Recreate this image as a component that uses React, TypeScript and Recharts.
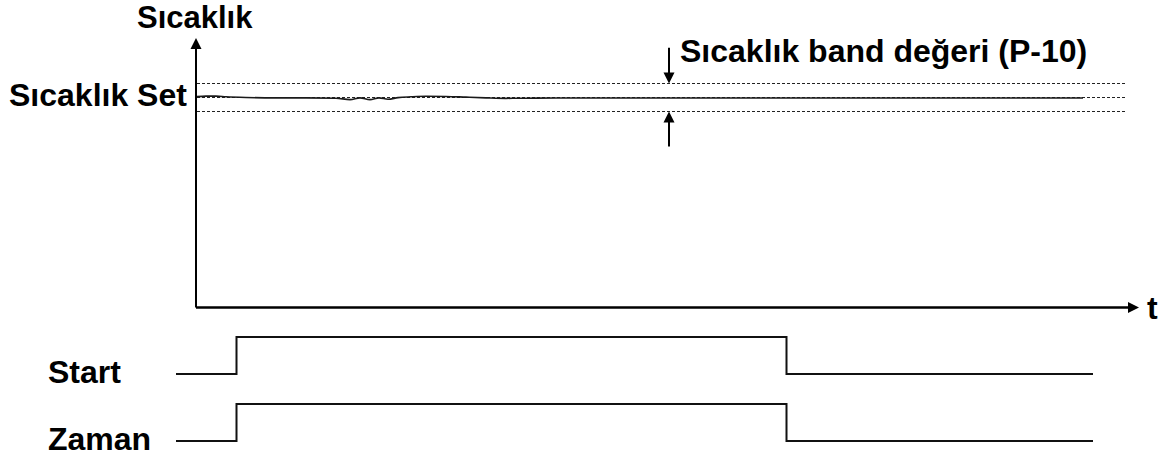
import React from "react";
import {
  ComposedChart,
  Line,
  Scatter,
  XAxis,
  YAxis,
  ReferenceLine,
} from "recharts";

// time runs from t = 0 at the vertical axis
const tempSeries = [
  { t: 0.1, v: 30.12 },
  { t: 1, v: 30.2 },
  { t: 2, v: 30.2 },
  { t: 3, v: 30.1 },
  { t: 5, v: 30.0 },
  { t: 8, v: 29.95 },
  { t: 11, v: 29.95 },
  { t: 14, v: 29.9 },
  { t: 15.4, v: 29.7 },
  { t: 16.4, v: 29.95 },
  { t: 17.4, v: 29.7 },
  { t: 18.3, v: 29.95 },
  { t: 19.2, v: 29.75 },
  { t: 20.2, v: 29.98 },
  { t: 21.5, v: 30.1 },
  { t: 23, v: 30.18 },
  { t: 25, v: 30.15 },
  { t: 27, v: 30.05 },
  { t: 29, v: 29.95 },
  { t: 31, v: 29.88 },
  { t: 33, v: 29.9 },
  { t: 36, v: 29.93 },
  { t: 45, v: 29.93 },
  { t: 60, v: 29.92 },
  { t: 75, v: 29.92 },
  { t: 88.7, v: 29.92 },
];

const setValue = 30;
const bandValue = 2; // P-10
const bandEnd = 92.9;

const startSignal = [
  { t: -2, v: 0 },
  { t: 4.05, v: 1 },
  { t: 59.05, v: 0 },
  { t: 89.7, v: 0 },
];
const zamanSignal = [
  { t: -2, v: 0 },
  { t: 4.05, v: 1 },
  { t: 59.05, v: 0 },
  { t: 89.7, v: 0 },
];

const axisTop = 38.5;
const axisEnd = 94.3;
const bandArrowT = 47.3;

const arrowHeads = [
  { t: 0, v: axisTop, dir: "up" },
  { t: axisEnd, v: 0, dir: "right" },
  { t: bandArrowT, v: setValue + bandValue, dir: "down" },
  { t: bandArrowT, v: setValue - bandValue, dir: "up" },
];

const W = 1163;
const H = 458;
const M = { top: 30, right: 0, bottom: 8, left: 166 };
const plotTop = M.top;
const plotBottom = H - M.bottom;

// vertical placement of each band
const tempZeroPx = 307.5;
const tempPxPerUnit = 7;
const sigPx = 37;
const startZeroPx = 374;
const zamanZeroPx = 441;

const domainFor = (zeroPx: number, pxPerUnit: number): [number, number] => [
  -(plotBottom - zeroPx) / pxPerUnit,
  (zeroPx - plotTop) / pxPerUnit,
];

const font = '"Liberation Sans", Arial, sans-serif';

const ArrowHead = (props: any) => {
  const { cx, cy, payload } = props;
  const len = 11;
  const half = 5.5;
  let pts = "";
  if (payload.dir === "up") pts = `${cx},${cy} ${cx - half},${cy + len} ${cx + half},${cy + len}`;
  if (payload.dir === "down") pts = `${cx},${cy} ${cx - half},${cy - len} ${cx + half},${cy - len}`;
  if (payload.dir === "right") pts = `${cx},${cy} ${cx - len},${cy - half} ${cx - len},${cy + half}`;
  return <polygon points={pts} fill="#000" />;
};

const labels = [
  { text: "Sıcaklık", x: 137, y: 28, size: 31 },
  { text: "Sıcaklık Set", x: 9, y: 106, size: 32 },
  { text: "Sıcaklık band değeri (P-10)", x: 680, y: 62, size: 32 },
  { text: "t", x: 1147, y: 319, size: 32 },
  { text: "Start", x: 48, y: 383, size: 32 },
  { text: "Zaman", x: 48, y: 450, size: 32 },
];

export default function App() {
  const dotted = "3 2";
  return (
    <div style={{ position: "absolute", left: 0, top: 0, width: W, height: H, background: "#fff" }}>
      <ComposedChart width={W} height={H} margin={M}>
        <XAxis type="number" dataKey="t" domain={[-3, 96.7]} allowDataOverflow hide />
        <YAxis yAxisId="temp" type="number" domain={domainFor(tempZeroPx, tempPxPerUnit)} allowDataOverflow hide />
        <YAxis yAxisId="start" type="number" domain={domainFor(startZeroPx, sigPx)} allowDataOverflow hide />
        <YAxis yAxisId="zaman" type="number" domain={domainFor(zamanZeroPx, sigPx)} allowDataOverflow hide />

        {[setValue + bandValue, setValue, setValue - bandValue].map((v) => (
          <ReferenceLine
            key={v}
            yAxisId="temp"
            segment={[{ x: 0.1, y: v }, { x: bandEnd, y: v }]}
            stroke="#222"
            strokeWidth={1}
            strokeDasharray={dotted}
          />
        ))}

        {/* axes */}
        <ReferenceLine yAxisId="temp" segment={[{ x: 0, y: 0 }, { x: 0, y: axisTop - 1 }]} stroke="#000" strokeWidth={2} />
        <ReferenceLine yAxisId="temp" segment={[{ x: 0, y: 0 }, { x: axisEnd - 1, y: 0 }]} stroke="#000" strokeWidth={2.5} />

        {/* band arrows */}
        <ReferenceLine yAxisId="temp" segment={[{ x: bandArrowT, y: 37.1 }, { x: bandArrowT, y: setValue + bandValue + 1 }]} stroke="#000" strokeWidth={2} />
        <ReferenceLine yAxisId="temp" segment={[{ x: bandArrowT, y: 23 }, { x: bandArrowT, y: setValue - bandValue - 1 }]} stroke="#000" strokeWidth={2} />

        <Line
          yAxisId="temp"
          data={tempSeries}
          dataKey="v"
          type="monotone"
          stroke="#1a1a1a"
          strokeWidth={1.6}
          dot={false}
          isAnimationActive={false}
        />
        <Line
          yAxisId="start"
          data={startSignal}
          dataKey="v"
          type="stepAfter"
          stroke="#111"
          strokeWidth={2}
          dot={false}
          isAnimationActive={false}
        />
        <Line
          yAxisId="zaman"
          data={zamanSignal}
          dataKey="v"
          type="stepAfter"
          stroke="#111"
          strokeWidth={2}
          dot={false}
          isAnimationActive={false}
        />
        <Scatter
          yAxisId="temp"
          data={arrowHeads}
          dataKey="v"
          shape={ArrowHead}
          isAnimationActive={false}
        />
      </ComposedChart>
      <svg
        width={W}
        height={H}
        style={{ position: "absolute", left: 0, top: 0, pointerEvents: "none" }}
      >
        {labels.map((l) => (
          <text key={l.text} x={l.x} y={l.y} fontFamily={font} fontWeight="bold" fontSize={l.size} fill="#000">
            {l.text}
          </text>
        ))}
      </svg>
    </div>
  );
}
